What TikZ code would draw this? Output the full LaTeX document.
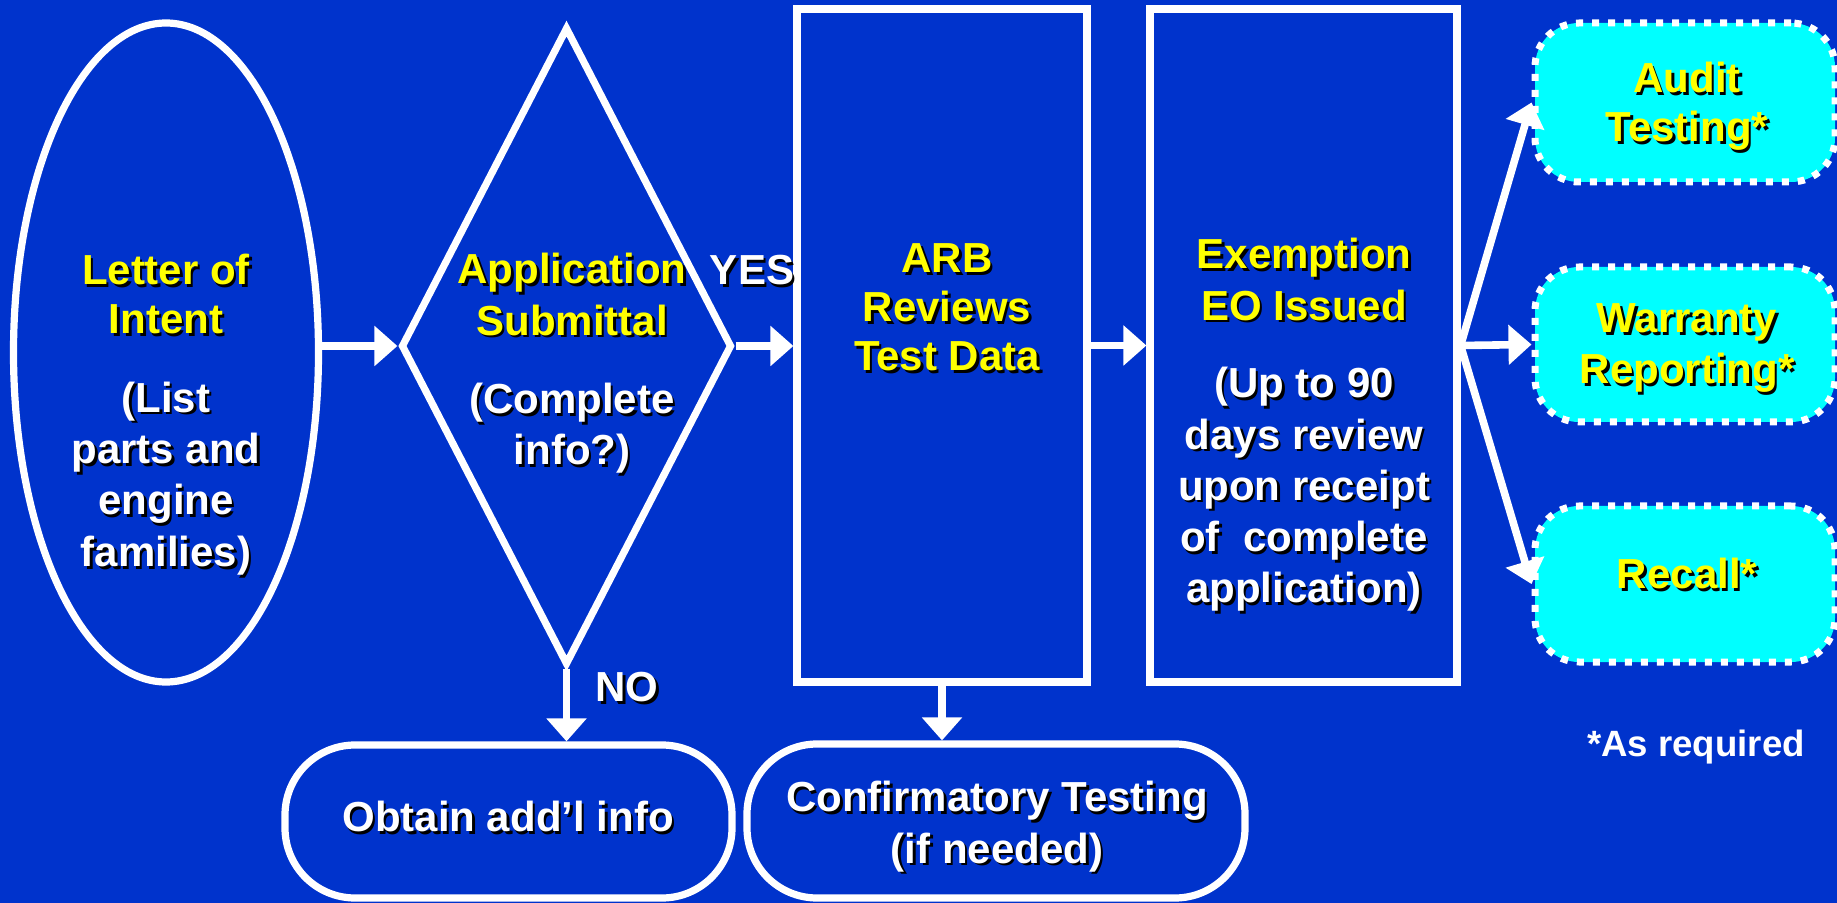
\documentclass[tikz,border=0pt]{standalone}
\usepackage{fontspec}
\setmainfont{Liberation Sans}
\usetikzlibrary{shapes.geometric,arrows.meta}
\definecolor{bg}{RGB}{0,51,204}
\definecolor{cy}{RGB}{0,255,255}
\definecolor{yl}{RGB}{255,255,0}
\newcommand\shd[1]{\rule[-5.5pt]{0pt}{24.5pt}\rlap{\kern1.3pt\raisebox{-1.3pt}{\color{black}#1}}#1}
\begin{document}
\begin{tikzpicture}[x=0.5pt,y=-0.5pt,
  frame/.style={draw=white, line width=3.6pt, inner sep=0pt},
  cbox/.style={draw=white, line width=3.5pt, dash pattern=on 3.5pt off 4.5pt, fill=cy,
    rounded corners=22pt, minimum width=150pt, inner sep=0pt},
  pill/.style={frame, rounded corners=35pt},
  arr/.style={draw=white, line width=3.8pt, -{Triangle[length=11.5pt,width=19.5pt]}},
  txt/.style={font=\bfseries\fontsize{21}{24.5}\selectfont, align=center, inner sep=0pt},
  yt/.style={txt, text=yl},
  wt/.style={txt, text=white}]
\useasboundingbox (0,0) rectangle (1837,903);
\fill[bg] (0,0) rectangle (1837,903);

% shapes
\node[frame, ellipse, minimum width=152.5pt, minimum height=329.5pt] (loi) at (166,352.5) {};
\node[frame, diamond, minimum width=165.5pt, minimum height=319pt] (app) at (566.5,346) {};
\node[frame, rectangle, minimum width=145pt, minimum height=336.5pt] (arb) at (942,345.5) {};
\node[frame, rectangle, minimum width=153.5pt, minimum height=336.5pt] (exe) at (1303.5,345.5) {};
\node[cbox, minimum height=79.5pt] (aud) at (1685,102.5) {};
\node[cbox, minimum height=77.5pt] (war) at (1685,344.5) {};
\node[cbox, minimum height=78pt] (rec) at (1685,584) {};
\node[pill, minimum width=223.5pt, minimum height=76.5pt] (obt) at (508.5,821.5) {};
\node[pill, minimum width=249pt, minimum height=77pt] (conf) at (996,821) {};

% texts
\node[yt] (loiT) at (166,296) {\shd{Letter of}\\\shd{Intent}};
\node[wt] (loiS) at (166,476) {\shd{(List}\\\shd{parts and}\\\shd{engine}\\\shd{families)}};
\node[yt] (appT) at (572,296) {\shd{Application}\\\shd{Submittal}};
\node[wt] (appS) at (572,426) {\shd{(Complete}\\\shd{info?)}};
\node[wt] (yes) at (752,271) {\shd{YES}};
\node[wt] (no) at (627,688) {\shd{NO}};
\node[yt] (arbT) at (947,308) {\shd{ARB}\\\shd{Reviews}\\\shd{Test Data}};
\node[yt] (exeT) at (1304,281) {\shd{Exemption}\\\shd{EO Issued}};
\node[wt] (exeS) at (1304,487) {\shd{(Up to 90}\\\shd{days review}\\\shd{upon receipt}\\\shd{of\ \ complete}\\\shd{application)}};
\node[yt] (audT) at (1687,104) {\shd{Audit}\\\shd{Testing*}};
\node[yt] (warT) at (1687,345) {\shd{Warranty}\\\shd{Reporting*}};
\node[yt] (recT) at (1687,575) {\shd{Recall*}};
\node[wt] (obtT) at (508,818) {\shd{Obtain add’l info}};
\node[wt] (confT) at (997,824) {\shd{Confirmatory Testing}\\\shd{(if needed)}};
\node[text=white, font=\bfseries\fontsize{18.3}{22}\selectfont, inner sep=0pt] (req) at (1696,747) {*As required};

% connectors
\draw[arr] (loi.east |- app.west) -- (app.west);
\draw[arr] (app.east) -- (arb.west |- app.east);
\draw[arr] (arb.east) -- (exe.west);
\draw[arr] (exe.east) -- (aud.west);
\draw[arr] (exe.east) -- (war.west);
\draw[arr] (exe.east) -- (rec.west);
\draw[arr] (app.south) -- (app.south |- obt.north);
\draw[arr] (arb.south) -- (arb.south |- conf.north);
\end{tikzpicture}
\end{document}
